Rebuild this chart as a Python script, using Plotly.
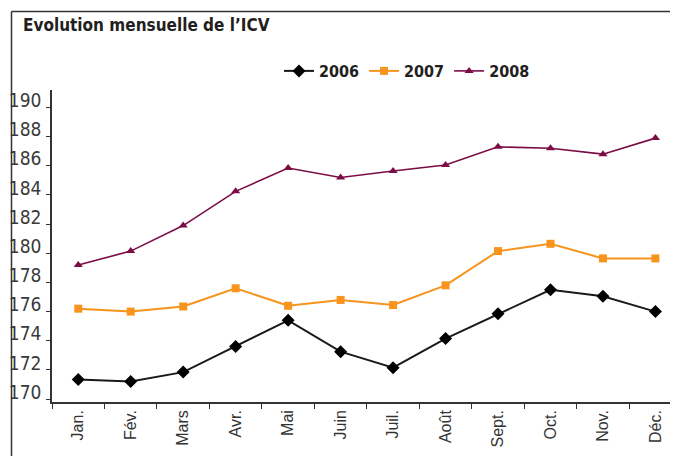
import plotly.graph_objects as go

months = ["Jan.", "Fév.", "Mars", "Avr.", "Mai", "Juin", "Juil.", "Août", "Sept.", "Oct.", "Nov.", "Déc."]
icv_2006 = [171.35, 171.2, 171.85, 173.6, 175.4, 173.25, 172.15, 174.15, 175.85, 177.5, 177.05, 176.0]
icv_2007 = [176.2, 176.0, 176.35, 177.6, 176.4, 176.8, 176.45, 177.8, 180.15, 180.65, 179.65, 179.65]
icv_2008 = [179.2, 180.15, 181.9, 184.25, 185.85, 185.2, 185.65, 186.05, 187.3, 187.2, 186.8, 187.9]
y_ticks = list(range(170, 191, 2))

COND = "DejaVu Sans Condensed, DejaVu Sans, sans-serif"

# page body adds an 8px offset; the figure is sized to the visible window area
OFF = 8
W, H = 678 - OFF, 456 - OFF
L, R, T, B = 52 - OFF, 0, 90 - OFF, 456 - 402
pw, ph = W - L - R, H - T - B

def px_x(px):
    return (px - OFF - L) / pw

def px_y(py):
    return (H - B - (py - OFF)) / ph

fig = go.Figure()
fig.add_trace(go.Scatter(x=months, y=icv_2006, name="2006", mode="lines+markers",
                         line=dict(color="#1a1a1a", width=2),
                         marker=dict(symbol="diamond", size=10, color="#000000")))
fig.add_trace(go.Scatter(x=months, y=icv_2007, name="2007", mode="lines+markers",
                         line=dict(color="#F7941D", width=2),
                         marker=dict(symbol="square", size=8, color="#F7941D")))
fig.add_trace(go.Scatter(x=months, y=icv_2008, name="2008", mode="lines+markers",
                         line=dict(color="#7B0C45", width=1.6),
                         marker=dict(symbol="triangle-up", size=8, color="#7B0C45")))

fig.update_layout(
    template="none",
    width=W, height=H,
    margin=dict(l=L, r=R, t=T, b=B, autoexpand=False),
    paper_bgcolor="white", plot_bgcolor="white",
    showlegend=True,
    legend=dict(orientation="h", x=px_x(279), y=px_y(71), xanchor="left", yanchor="middle",
                font=dict(family=COND, size=16, color="#231f20", weight="bold"),
                itemwidth=30, tracegroupgap=0, bgcolor="rgba(0,0,0,0)"),
    xaxis=dict(type="category", range=[-0.5, 11.43], showgrid=False, zeroline=False, automargin=False,
               showline=True, linecolor="#333333", linewidth=1.5,
               ticks="outside", ticklen=5, tickcolor="#333333", tickson="boundaries",
               tickangle=-90, tickfont=dict(family="Liberation Sans, Arial, sans-serif", size=16, color="#333333")),
    yaxis=dict(range=[169.8, 191.2], tickmode="array", tickvals=y_ticks, automargin=False,
               ticktext=[str(v) for v in y_ticks], showgrid=False, zeroline=False,
               showline=True, linecolor="#333333", linewidth=1.5,
               ticks="outside", ticklen=4, tickcolor="#333333", ticklabelshift=-7, ticklabelstandoff=1,
               tickfont=dict(family=COND, size=19, color="#3a3a3a")),
    annotations=[dict(text="Evolution mensuelle de l’ICV", xref="paper", yref="paper",
                      x=px_x(21), y=px_y(25), xanchor="left", yanchor="middle", showarrow=False,
                      font=dict(family=COND, size=17, color="#231f20", weight="bold"))],
    shapes=[
        dict(type="line", xref="paper", yref="paper", x0=px_x(11.5), x1=px_x(690), y0=px_y(11.5), y1=px_y(11.5),
             line=dict(color="#333333", width=1.5)),
        dict(type="line", xref="paper", yref="paper", x0=px_x(11.5), x1=px_x(11.5), y0=px_y(11.5), y1=px_y(470),
             line=dict(color="#333333", width=1.5)),
    ],
)

fig.write_html("out.html")
